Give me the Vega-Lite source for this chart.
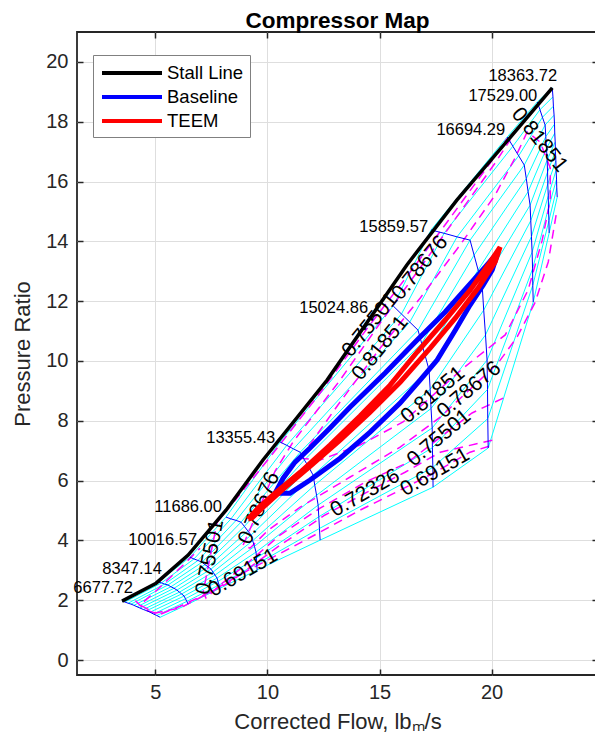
{
  "$schema": "https://vega.github.io/schema/vega-lite/v6.json",
  "width": 521,
  "height": 643,
  "autosize": {"type": "none"},
  "padding": {"left": 77, "top": 32, "right": 0, "bottom": 67},
  "background": "white",
  "title": {"text": "Compressor Map", "font": "Liberation Sans", "fontSize": 22.5, "fontWeight": "bold", "color": "#000000", "anchor": "middle", "frame": "group", "baseline": "alphabetic", "offset": -19},
  "config": {"view": {"stroke": "#262626", "strokeWidth": 1.8}, "font": "Liberation Sans"},
  "datasets": {
    "grid": [
      {"s":1,"b":0,"x":3.51,"y":1.97},{"s":1,"b":1,"x":3.64,"y":1.94},{"s":1,"b":2,"x":3.78,"y":1.90},{"s":1,"b":3,"x":3.91,"y":1.87},{"s":1,"b":4,"x":4.04,"y":1.83},{"s":1,"b":5,"x":4.18,"y":1.78},{"s":1,"b":6,"x":4.31,"y":1.74},{"s":1,"b":7,"x":4.46,"y":1.69},{"s":1,"b":8,"x":4.61,"y":1.65},{"s":1,"b":9,"x":4.76,"y":1.60},{"s":1,"b":10,"x":4.91,"y":1.54},{"s":1,"b":11,"x":5.06,"y":1.49},{"s":1,"b":12,"x":5.21,"y":1.43},
      {"s":2,"b":0,"x":5.12,"y":2.61},{"s":2,"b":1,"x":5.27,"y":2.58},{"s":2,"b":2,"x":5.41,"y":2.54},{"s":2,"b":3,"x":5.56,"y":2.51},{"s":2,"b":4,"x":5.69,"y":2.45},{"s":2,"b":5,"x":5.83,"y":2.40},{"s":2,"b":6,"x":5.96,"y":2.34},{"s":2,"b":7,"x":6.07,"y":2.27},{"s":2,"b":8,"x":6.17,"y":2.21},{"s":2,"b":9,"x":6.28,"y":2.14},{"s":2,"b":10,"x":6.34,"y":2.05},{"s":2,"b":11,"x":6.40,"y":1.96},{"s":2,"b":12,"x":6.46,"y":1.87},
      {"s":3,"b":0,"x":6.54,"y":3.44},{"s":3,"b":1,"x":6.72,"y":3.38},{"s":3,"b":2,"x":6.90,"y":3.33},{"s":3,"b":3,"x":7.08,"y":3.27},{"s":3,"b":4,"x":7.21,"y":3.19},{"s":3,"b":5,"x":7.35,"y":3.12},{"s":3,"b":6,"x":7.48,"y":3.04},{"s":3,"b":7,"x":7.57,"y":2.94},{"s":3,"b":8,"x":7.66,"y":2.84},{"s":3,"b":9,"x":7.75,"y":2.74},{"s":3,"b":10,"x":7.79,"y":2.63},{"s":3,"b":11,"x":7.84,"y":2.51},{"s":3,"b":12,"x":7.88,"y":2.40},
      {"s":4,"b":0,"x":8.15,"y":4.78},{"s":4,"b":1,"x":8.37,"y":4.72},{"s":4,"b":2,"x":8.60,"y":4.67},{"s":4,"b":3,"x":8.82,"y":4.61},{"s":4,"b":4,"x":8.97,"y":4.47},{"s":4,"b":5,"x":9.12,"y":4.32},{"s":4,"b":6,"x":9.27,"y":4.18},{"s":4,"b":7,"x":9.34,"y":3.99},{"s":4,"b":8,"x":9.42,"y":3.80},{"s":4,"b":9,"x":9.49,"y":3.61},{"s":4,"b":10,"x":9.51,"y":3.41},{"s":4,"b":11,"x":9.52,"y":3.21},{"s":4,"b":12,"x":9.54,"y":3.01},
      {"s":5,"b":0,"x":10.56,"y":7.29},{"s":5,"b":1,"x":10.86,"y":7.18},{"s":5,"b":2,"x":11.16,"y":7.06},{"s":5,"b":3,"x":11.46,"y":6.95},{"s":5,"b":4,"x":11.65,"y":6.69},{"s":5,"b":5,"x":11.85,"y":6.44},{"s":5,"b":6,"x":12.04,"y":6.18},{"s":5,"b":7,"x":12.11,"y":5.85},{"s":5,"b":8,"x":12.19,"y":5.51},{"s":5,"b":9,"x":12.26,"y":5.18},{"s":5,"b":10,"x":12.29,"y":4.79},{"s":5,"b":11,"x":12.32,"y":4.40},{"s":5,"b":12,"x":12.35,"y":4.01},
      {"s":6,"b":0,"x":15.61,"y":11.84},{"s":6,"b":1,"x":15.98,"y":11.57},{"s":6,"b":2,"x":16.35,"y":11.30},{"s":6,"b":3,"x":16.72,"y":11.03},{"s":6,"b":4,"x":16.88,"y":10.59},{"s":6,"b":5,"x":17.05,"y":10.14},{"s":6,"b":6,"x":17.21,"y":9.70},{"s":6,"b":7,"x":17.26,"y":9.05},{"s":6,"b":8,"x":17.30,"y":8.41},{"s":6,"b":9,"x":17.35,"y":7.76},{"s":6,"b":10,"x":17.36,"y":7.10},{"s":6,"b":11,"x":17.38,"y":6.44},{"s":6,"b":12,"x":17.39,"y":5.78},
      {"s":7,"b":0,"x":17.30,"y":14.38},{"s":7,"b":1,"x":17.88,"y":14.27},{"s":7,"b":2,"x":18.46,"y":14.15},{"s":7,"b":3,"x":19.04,"y":14.04},{"s":7,"b":4,"x":19.22,"y":13.54},{"s":7,"b":5,"x":19.40,"y":13.04},{"s":7,"b":6,"x":19.58,"y":12.54},{"s":7,"b":7,"x":19.65,"y":11.70},{"s":7,"b":8,"x":19.73,"y":10.87},{"s":7,"b":9,"x":19.80,"y":10.03},{"s":7,"b":10,"x":19.82,"y":9.05},{"s":7,"b":11,"x":19.83,"y":8.07},{"s":7,"b":12,"x":19.85,"y":7.09},
      {"s":8,"b":0,"x":20.70,"y":17.49},{"s":8,"b":1,"x":20.95,"y":17.18},{"s":8,"b":2,"x":21.21,"y":16.86},{"s":8,"b":3,"x":21.46,"y":16.55},{"s":8,"b":4,"x":21.55,"y":16.10},{"s":8,"b":5,"x":21.63,"y":15.66},{"s":8,"b":6,"x":21.72,"y":15.21},{"s":8,"b":7,"x":21.75,"y":14.69},{"s":8,"b":8,"x":21.78,"y":14.16},{"s":8,"b":9,"x":21.81,"y":13.64},{"s":8,"b":10,"x":21.83,"y":13.08},{"s":8,"b":11,"x":21.84,"y":12.53},{"s":8,"b":12,"x":21.86,"y":11.97},
      {"s":9,"b":0,"x":22.04,"y":18.66},{"s":9,"b":1,"x":22.16,"y":18.40},{"s":9,"b":2,"x":22.27,"y":18.15},{"s":9,"b":3,"x":22.39,"y":17.89},{"s":9,"b":4,"x":22.42,"y":17.50},{"s":9,"b":5,"x":22.45,"y":17.11},{"s":9,"b":6,"x":22.48,"y":16.72},{"s":9,"b":7,"x":22.50,"y":16.32},{"s":9,"b":8,"x":22.51,"y":15.92},{"s":9,"b":9,"x":22.53,"y":15.52},{"s":9,"b":10,"x":22.54,"y":15.11},{"s":9,"b":11,"x":22.56,"y":14.69},{"s":9,"b":12,"x":22.57,"y":14.28},
      {"s":10,"b":0,"x":22.71,"y":19.13},{"s":10,"b":1,"x":22.74,"y":18.83},{"s":10,"b":2,"x":22.76,"y":18.52},{"s":10,"b":3,"x":22.79,"y":18.22},{"s":10,"b":4,"x":22.81,"y":17.92},{"s":10,"b":5,"x":22.82,"y":17.62},{"s":10,"b":6,"x":22.84,"y":17.32},{"s":10,"b":7,"x":22.85,"y":17.01},{"s":10,"b":8,"x":22.87,"y":16.69},{"s":10,"b":9,"x":22.88,"y":16.38},{"s":10,"b":10,"x":22.90,"y":16.08},{"s":10,"b":11,"x":22.91,"y":15.78},{"s":10,"b":12,"x":22.93,"y":15.48}
    ],
    "eff": [
      {"c":1,"o":1,"x":11.46,"y":6.75},{"c":1,"o":2,"x":13.24,"y":8.63},{"c":1,"o":3,"x":15.03,"y":10.43},{"c":1,"o":4,"x":16.81,"y":12.10},{"c":1,"o":5,"x":18.60,"y":13.88},{"c":1,"o":6,"x":20.16,"y":15.55},{"c":1,"o":7,"x":21.05,"y":16.79},{"c":1,"o":8,"x":21.59,"y":17.66},{"c":1,"o":9,"x":22.17,"y":17.32},{"c":1,"o":10,"x":22.62,"y":16.45},{"c":1,"o":11,"x":22.62,"y":15.38},{"c":1,"o":12,"x":22.26,"y":14.04},{"c":1,"o":13,"x":21.63,"y":12.37},{"c":1,"o":14,"x":20.61,"y":10.87},{"c":1,"o":15,"x":18.73,"y":9.76},{"c":1,"o":16,"x":17.39,"y":8.86},{"c":1,"o":17,"x":16.05,"y":7.96},{"c":1,"o":18,"x":14.13,"y":7.19},{"c":1,"o":19,"x":12.35,"y":6.69},{"c":1,"o":20,"x":11.46,"y":6.75},
      {"c":2,"o":1,"x":22.88,"y":14.88},{"c":2,"o":2,"x":22.53,"y":13.31},{"c":2,"o":3,"x":21.95,"y":11.97},{"c":2,"o":4,"x":21.14,"y":10.80},{"c":2,"o":5,"x":20.29,"y":9.93},{"c":2,"o":6,"x":19.00,"y":9.03},{"c":2,"o":7,"x":17.71,"y":8.12},{"c":2,"o":8,"x":15.92,"y":7.12},{"c":2,"o":9,"x":13.69,"y":6.12},{"c":2,"o":10,"x":11.46,"y":5.11},{"c":2,"o":11,"x":10.03,"y":4.34},{"c":2,"o":12,"x":9.22,"y":3.74},{"c":2,"o":13,"x":8.91,"y":3.84},{"c":2,"o":14,"x":9.63,"y":5.08},{"c":2,"o":15,"x":10.34,"y":6.32},{"c":2,"o":16,"x":11.14,"y":7.29},{"c":2,"o":17,"x":13.24,"y":9.36},{"c":2,"o":18,"x":15.03,"y":11.27},{"c":2,"o":19,"x":16.81,"y":13.11},{"c":2,"o":20,"x":18.60,"y":14.98},{"c":2,"o":21,"x":20.16,"y":16.62},{"c":2,"o":22,"x":20.83,"y":17.39},
      {"c":3,"o":1,"x":20.52,"y":8.76},{"c":3,"o":2,"x":19.13,"y":8.26},{"c":3,"o":3,"x":17.66,"y":7.42},{"c":3,"o":4,"x":16.23,"y":6.59},{"c":3,"o":5,"x":14.36,"y":5.95},{"c":3,"o":6,"x":12.35,"y":5.08},{"c":3,"o":7,"x":10.56,"y":4.18},{"c":3,"o":8,"x":9.00,"y":3.17},{"c":3,"o":9,"x":7.88,"y":2.51},{"c":3,"o":10,"x":7.26,"y":2.07},{"c":3,"o":11,"x":7.13,"y":2.27},{"c":3,"o":12,"x":7.44,"y":3.44},{"c":3,"o":13,"x":7.75,"y":4.61},{"c":3,"o":14,"x":8.78,"y":5.55},{"c":3,"o":15,"x":10.12,"y":6.79},{"c":3,"o":16,"x":12.35,"y":8.93},{"c":3,"o":17,"x":14.49,"y":11.13},{"c":3,"o":18,"x":16.37,"y":12.97},{"c":3,"o":19,"x":18.15,"y":14.78},{"c":3,"o":20,"x":19.94,"y":16.62},{"c":3,"o":21,"x":20.70,"y":17.45},
      {"c":4,"o":1,"x":20.03,"y":7.35},{"c":4,"o":2,"x":17.71,"y":6.95},{"c":4,"o":3,"x":16.14,"y":6.28},{"c":4,"o":4,"x":14.36,"y":5.58},{"c":4,"o":5,"x":12.57,"y":4.85},{"c":4,"o":6,"x":10.56,"y":3.84},{"c":4,"o":7,"x":8.33,"y":2.61},{"c":4,"o":8,"x":6.10,"y":1.74},{"c":4,"o":9,"x":4.98,"y":1.57},{"c":4,"o":10,"x":4.31,"y":1.84},{"c":4,"o":11,"x":5.07,"y":2.34},{"c":4,"o":12,"x":6.23,"y":3.17},{"c":4,"o":13,"x":6.99,"y":3.74},
      {"c":5,"o":1,"x":19.89,"y":7.15},{"c":5,"o":2,"x":19.04,"y":6.95},{"c":5,"o":3,"x":17.48,"y":6.28},{"c":5,"o":4,"x":15.92,"y":5.68},{"c":5,"o":5,"x":14.13,"y":5.01},{"c":5,"o":6,"x":12.35,"y":4.28},{"c":5,"o":7,"x":10.43,"y":3.51},{"c":5,"o":8,"x":8.91,"y":2.91},{"c":5,"o":9,"x":7.44,"y":2.27},{"c":5,"o":10,"x":6.10,"y":1.80},{"c":5,"o":11,"x":5.21,"y":1.53},{"c":5,"o":12,"x":4.54,"y":1.67},{"c":5,"o":13,"x":4.09,"y":2.00}
    ],
    "stall": [
      {"o":1,"x":3.51,"y":1.97},{"o":2,"x":5.03,"y":2.57},{"o":3,"x":6.46,"y":3.51},{"o":4,"x":8.15,"y":5.01},{"o":5,"x":9.80,"y":6.69},{"o":6,"x":12.66,"y":9.36},{"o":7,"x":16.22,"y":13.21},{"o":8,"x":18.45,"y":15.38},{"o":9,"x":22.71,"y":19.13}
    ],
    "base": [
      {"o":1,"x":10.34,"y":5.58},{"o":2,"x":10.70,"y":6.08},{"o":3,"x":11.23,"y":6.62},{"o":4,"x":11.90,"y":7.09},{"o":5,"x":12.79,"y":7.76},{"o":6,"x":13.69,"y":8.46},{"o":7,"x":15.25,"y":9.60},{"o":8,"x":16.68,"y":10.70},{"o":9,"x":17.93,"y":11.64},{"o":10,"x":18.91,"y":12.47},{"o":11,"x":19.71,"y":13.14},{"o":12,"x":20.29,"y":13.64},{"o":13,"x":20.03,"y":13.04},{"o":14,"x":19.63,"y":12.54},{"o":15,"x":19.04,"y":11.87},{"o":16,"x":18.38,"y":11.03},{"o":17,"x":17.57,"y":10.03},{"o":18,"x":16.81,"y":9.36},{"o":19,"x":15.92,"y":8.59},{"o":20,"x":14.58,"y":7.62},{"o":21,"x":13.24,"y":6.75},{"o":22,"x":11.90,"y":6.02},{"o":23,"x":11.01,"y":5.58},{"o":24,"x":10.34,"y":5.58}
    ],
    "teem": [
      {"o":1,"x":9.13,"y":4.71},{"o":2,"x":9.58,"y":5.08},{"o":3,"x":10.34,"y":5.58},{"o":4,"x":11.46,"y":6.28},{"o":5,"x":12.79,"y":7.19},{"o":6,"x":14.13,"y":8.16},{"o":7,"x":15.47,"y":9.19},{"o":8,"x":16.68,"y":10.30},{"o":9,"x":17.93,"y":11.37},{"o":10,"x":19.04,"y":12.37},{"o":11,"x":19.94,"y":13.31},{"o":12,"x":20.38,"y":13.81},{"o":13,"x":20.16,"y":13.31},{"o":14,"x":19.40,"y":12.44},{"o":15,"x":18.38,"y":11.43},{"o":16,"x":17.26,"y":10.43},{"o":17,"x":15.92,"y":9.29},{"o":18,"x":14.58,"y":8.29},{"o":19,"x":13.24,"y":7.35},{"o":20,"x":11.90,"y":6.48},{"o":21,"x":10.65,"y":5.68},{"o":22,"x":9.76,"y":5.08},{"o":23,"x":9.31,"y":4.75},{"o":24,"x":9.13,"y":4.71}
    ]
  },
  "encoding": {
    "x": {"field": "x", "type": "quantitative", "scale": {"domain": [1.5, 24.75], "nice": false, "zero": false}, "axis": null},
    "y": {"field": "y", "type": "quantitative", "scale": {"domain": [-0.5, 21], "nice": false, "zero": false}, "axis": null}
  },
  "layer": [
    {
      "data": {"name": "grid"},
      "mark": {"type": "line", "color": "#00ffff", "strokeWidth": 1},
      "encoding": {
        "x": {"field": "x", "type": "quantitative", "scale": {"domain": [1.5, 24.75], "nice": false, "zero": false},
          "axis": {"orient": "bottom", "values": [5, 10, 15, 20], "grid": true, "gridColor": "#dedede", "gridWidth": 1, "domain": false, "tickSize": -6, "tickWidth": 1.5, "tickColor": "#262626", "labelFont": "Liberation Sans", "labelFontSize": 20, "labelColor": "#262626", "labelPadding": 13, "title": "Corrected Flow, lbₘ/s", "titleFont": "Liberation Sans", "titleFontSize": 22, "titleFontWeight": "normal", "titleColor": "#262626", "titlePadding": 9}},
        "y": {"field": "y", "type": "quantitative", "scale": {"domain": [-0.5, 21], "nice": false, "zero": false},
          "axis": {"orient": "left", "values": [0, 2, 4, 6, 8, 10, 12, 14, 16, 18, 20], "grid": true, "gridColor": "#dedede", "gridWidth": 1, "domain": false, "tickSize": -6, "tickWidth": 1.5, "tickColor": "#262626", "labelFont": "Liberation Sans", "labelFontSize": 20, "labelColor": "#262626", "labelPadding": 15, "title": "Pressure Ratio", "titleFont": "Liberation Sans", "titleFontSize": 22, "titleFontWeight": "normal", "titleColor": "#262626", "titlePadding": 11}},
        "detail": {"field": "b", "type": "nominal"},
        "order": {"field": "s", "type": "quantitative"}
      }
    },
    {
      "data": {"name": "eff"},
      "mark": {"type": "line", "color": "#ff00ff", "strokeWidth": 1.5, "strokeDash": [9, 6]},
      "encoding": {
        "x": {"field": "x", "type": "quantitative", "scale": {"domain": [1.5, 24.75], "nice": false, "zero": false},
          "axis": {"orient": "top", "values": [5, 10, 15, 20], "grid": false, "domain": false, "labels": false, "tickSize": -6, "tickWidth": 1.5, "tickColor": "#262626", "title": null}},
        "y": {"field": "y", "type": "quantitative", "scale": {"domain": [-0.5, 21], "nice": false, "zero": false},
          "axis": {"orient": "right", "values": [0, 2, 4, 6, 8, 10, 12, 14, 16, 18, 20], "grid": false, "domain": false, "labels": false, "tickSize": -6, "tickWidth": 1.5, "tickColor": "#262626", "title": null}},
        "detail": {"field": "c", "type": "nominal"},
        "order": {"field": "o", "type": "quantitative"}
      }
    },
    {
      "data": {"name": "grid"},
      "mark": {"type": "line", "color": "#0000ff", "strokeWidth": 1},
      "encoding": {"detail": {"field": "s", "type": "nominal"}, "order": {"field": "b", "type": "quantitative"}}
    },
    {
      "data": {"values": [
        {"t": "6677.72", "x": 4.00, "y": 2.40}, {"t": "8347.14", "x": 5.29, "y": 3.04}, {"t": "10016.57", "x": 6.86, "y": 4.01}, {"t": "11686.00", "x": 7.97, "y": 5.11}, {"t": "13355.43", "x": 10.34, "y": 7.42}, {"t": "15024.86", "x": 14.49, "y": 11.77}, {"t": "15859.57", "x": 17.17, "y": 14.48}, {"t": "16694.29", "x": 20.61, "y": 17.72}, {"t": "17529.00", "x": 22.04, "y": 18.86}, {"t": "18363.72", "x": 22.93, "y": 19.53}
      ]},
      "mark": {"type": "text", "font": "Liberation Sans", "fontSize": 16.5, "color": "#000000", "align": "right", "baseline": "middle"},
      "encoding": {"text": {"field": "t"}}
    },
    {
      "data": {"values": [{"t": "0.72326", "x": 14.36, "y": 5.58}, {"t": "0.69151", "x": 8.91, "y": 2.91}, {"t": "0.69151", "x": 17.48, "y": 6.28}]},
      "mark": {"type": "text", "font": "Liberation Sans", "fontSize": 21, "color": "#000000", "align": "center", "baseline": "middle", "angle": -30},
      "encoding": {"text": {"field": "t"}}
    },
    {
      "data": {"values": [{"t": "0.81851", "x": 17.39, "y": 8.86}, {"t": "0.78676", "x": 19.00, "y": 9.03}, {"t": "0.75501", "x": 17.66, "y": 7.42}]},
      "mark": {"type": "text", "font": "Liberation Sans", "fontSize": 21, "color": "#000000", "align": "center", "baseline": "middle", "angle": -40},
      "encoding": {"text": {"field": "t"}}
    },
    {
      "data": {"values": [{"t": "0.81851", "x": 15.03, "y": 10.43}, {"t": "0.78676", "x": 16.81, "y": 13.11}, {"t": "0.75501", "x": 14.58, "y": 11.20}]},
      "mark": {"type": "text", "font": "Liberation Sans", "fontSize": 21, "color": "#000000", "align": "center", "baseline": "middle", "angle": -51},
      "encoding": {"text": {"field": "t"}}
    },
    {
      "data": {"values": [{"t": "0.78676", "x": 9.63, "y": 5.08}]},
      "mark": {"type": "text", "font": "Liberation Sans", "fontSize": 21, "color": "#000000", "align": "center", "baseline": "middle", "angle": -67},
      "encoding": {"text": {"field": "t"}}
    },
    {
      "data": {"values": [{"t": "0.75501", "x": 7.44, "y": 3.44}]},
      "mark": {"type": "text", "font": "Liberation Sans", "fontSize": 21, "color": "#000000", "align": "center", "baseline": "middle", "angle": -79},
      "encoding": {"text": {"field": "t"}}
    },
    {
      "data": {"values": [{"t": "0.81851", "x": 22.13, "y": 17.39}]},
      "mark": {"type": "text", "font": "Liberation Sans", "fontSize": 21, "color": "#000000", "align": "center", "baseline": "middle", "angle": 51},
      "encoding": {"text": {"field": "t"}}
    },
    {
      "data": {"name": "stall"},
      "mark": {"type": "line", "strokeWidth": 3.5},
      "encoding": {
        "order": {"field": "o", "type": "quantitative"},
        "color": {"datum": "Stall Line", "type": "nominal", "scale": {"domain": ["Stall Line", "Baseline", "TEEM"], "range": ["#000000", "#0000ff", "#ff0000"]},
          "legend": {"title": null, "orient": "none", "legendX": 16, "legendY": 23, "symbolType": "M-3,0L3,0", "symbolSize": 400, "symbolStrokeWidth": 4, "symbolOffset": 21, "labelOffset": 23, "labelFont": "Liberation Sans", "labelFontSize": 18.5, "labelColor": "#000000", "rowPadding": 2, "padding": 6, "strokeColor": "#808080", "fillColor": "#ffffff", "cornerRadius": 0}}
      }
    },
    {
      "data": {"name": "base"},
      "mark": {"type": "line", "strokeWidth": 5},
      "encoding": {
        "order": {"field": "o", "type": "quantitative"},
        "color": {"datum": "Baseline", "type": "nominal", "scale": {"domain": ["Stall Line", "Baseline", "TEEM"], "range": ["#000000", "#0000ff", "#ff0000"]}}
      }
    },
    {
      "data": {"name": "teem"},
      "mark": {"type": "line", "strokeWidth": 5},
      "encoding": {
        "order": {"field": "o", "type": "quantitative"},
        "color": {"datum": "TEEM", "type": "nominal", "scale": {"domain": ["Stall Line", "Baseline", "TEEM"], "range": ["#000000", "#0000ff", "#ff0000"]}}
      }
    }
  ],
  "resolve": {"axis": {"x": "independent", "y": "independent"}}
}
